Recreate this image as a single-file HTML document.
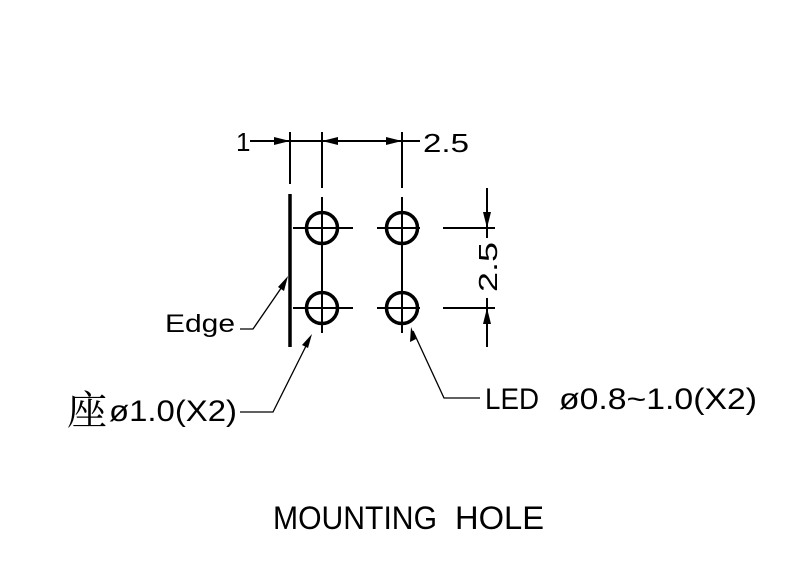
<!DOCTYPE html>
<html><head><style>html,body{margin:0;padding:0;background:#fff}svg{display:block}</style></head><body>
<svg width="800" height="576" viewBox="0 0 800 576" xmlns="http://www.w3.org/2000/svg">
<g stroke="#000" fill="none" stroke-width="2">
<line x1="290" y1="132" x2="290" y2="184"/>
<line x1="322" y1="132" x2="322" y2="188"/>
<line x1="402" y1="132" x2="402" y2="188"/>
<line x1="250" y1="141" x2="420" y2="141"/>
<line x1="290" y1="194" x2="290" y2="347" stroke-width="3.5"/>
<line x1="322" y1="197" x2="322" y2="333"/>
<line x1="402" y1="197" x2="402" y2="333"/>
<line x1="293" y1="228" x2="353" y2="228"/>
<line x1="293" y1="308" x2="353" y2="308"/>
<line x1="377" y1="228" x2="420" y2="228"/>
<line x1="377" y1="308" x2="420" y2="308"/>
<line x1="443" y1="228" x2="495" y2="228"/>
<line x1="443" y1="308" x2="495" y2="308"/>
<line x1="487" y1="188" x2="487" y2="238"/>
<line x1="487" y1="298" x2="487" y2="347"/>
<g stroke-width="3.5">
<circle cx="322" cy="228" r="15.5"/>
<circle cx="322" cy="308" r="15.5"/>
<circle cx="402" cy="228" r="15.5"/>
<circle cx="402" cy="308" r="15.5"/>
</g>
<g stroke-width="1.3">
<polyline points="240,329 253,329 286,281"/>
<polyline points="240,412 273,412 310,338"/>
<polyline points="480,398 444,398 413,331"/>
</g>
</g>
<g fill="#000">
<polygon points="290,141 274,137 274,145"/>
<polygon points="322,141 338,137 338,145"/>
<polygon points="402,141 386,137 386,145"/>
<polygon points="487,228 483,212 491,212"/>
<polygon points="487,308 483,324 491,324"/>
<polygon points="288,276 278,287 284,291"/>
<polygon points="312,334 302,345 308,348"/>
<polygon points="411,327 410,342 416,339"/>
</g>
<g font-family="'Liberation Sans','Noto Sans CJK SC',sans-serif" fill="#000">
<text x="236" y="151" font-size="26">1</text>
<text x="423" y="152" font-size="26" textLength="46" lengthAdjust="spacingAndGlyphs">2.5</text>
<text transform="translate(497,292) rotate(-90)" font-size="26" textLength="50" lengthAdjust="spacingAndGlyphs">2.5</text>
<text x="165" y="332" font-size="25" textLength="70" lengthAdjust="spacingAndGlyphs">Edge</text>
<text x="67" y="424" font-size="40" font-family="'Noto Serif CJK SC','Noto Sans CJK SC',serif">座</text>
<text x="109" y="421" font-size="30" textLength="128" lengthAdjust="spacingAndGlyphs">ø1.0(X2)</text>
<text x="485" y="409" font-size="30" textLength="54" lengthAdjust="spacingAndGlyphs">LED</text>
<text x="559" y="409" font-size="30" textLength="198" lengthAdjust="spacingAndGlyphs">ø0.8~1.0(X2)</text>
<text x="273" y="529" font-size="32" textLength="164" lengthAdjust="spacingAndGlyphs">MOUNTING</text>
<text x="455" y="529" font-size="32" textLength="89" lengthAdjust="spacingAndGlyphs">HOLE</text>
</g>
</svg>
</body></html>
